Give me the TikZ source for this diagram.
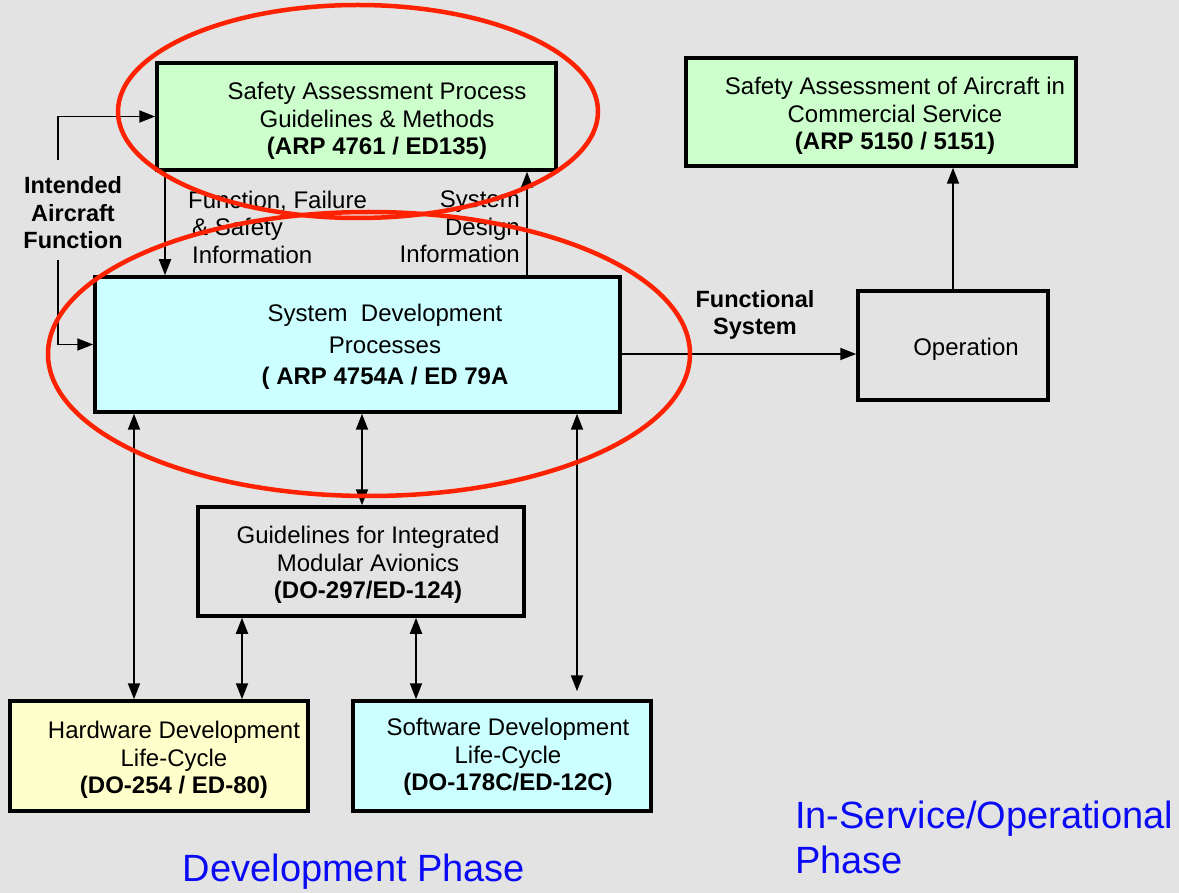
\documentclass[tikz,border=0pt]{standalone}
\usepackage{fontspec}
\setmainfont{Liberation Sans}
\usetikzlibrary{arrows.meta}
\definecolor{bggray}{RGB}{227,227,227}
\definecolor{boxgreen}{RGB}{204,255,204}
\definecolor{boxcyan}{RGB}{204,255,255}
\definecolor{boxyellow}{RGB}{255,255,204}
\definecolor{ringred}{RGB}{255,34,0}
\definecolor{phaseblue}{RGB}{10,10,245}
\begin{document}
\begin{tikzpicture}[x=1pt,y=-1pt,
  box/.style={draw=black,line width=3.5pt,minimum width=#1,inner sep=0pt},
  body/.style={inner sep=0pt,align=center,font=\fontsize{24}{27.5}\selectfont},
  lbl/.style={inner sep=0pt,font=\fontsize{24}{27.5}\selectfont},
  blbl/.style={inner sep=0pt,align=center,font=\fontsize{23.5}{27.5}\selectfont\bfseries},
  phase/.style={inner sep=0pt,text=phaseblue,font=\fontsize{38}{45}\selectfont},
  conn/.style={line width=1.8pt,-{Triangle[length=16pt,width=12pt]}},
  dconn/.style={line width=1.8pt,{Triangle[length=16pt,width=12pt]}-{Triangle[length=16pt,width=12pt]}},
  ring/.style={draw=ringred,line width=4.5pt}]
% canvas
\fill[bggray] (0,0) rectangle (1179,893);
\useasboundingbox (0,0) rectangle (1179,893);

% boxes
\node[box=399pt,minimum height=107pt,fill=boxgreen] (sap) at (356.5,116.5) {};
\node[box=390pt,minimum height=108pt,fill=boxgreen] (saa) at (881,112) {};
\node[box=525pt,minimum height=135pt,fill=boxcyan] (sys) at (357.5,344.5) {};
\node[box=190pt,minimum height=109pt] (op) at (953,345.5) {};
\node[box=326pt,minimum height=109pt] (ima) at (361,561.5) {};
\node[box=298pt,minimum height=110pt,fill=boxyellow] (hw) at (159,756) {};
\node[box=298pt,minimum height=110pt,fill=boxcyan] (sw) at (502,756) {};

% box texts
\node[body] (sapT) at (377,121) {Safety Assessment Process\\Guidelines \& Methods\\\textbf{(ARP 4761 / ED135)}};
\node[body] (saaT) at (895,116) {Safety Assessment of Aircraft in\\Commercial Service\\\textbf{(ARP 5150 / 5151)}};
\node[body,font=\fontsize{24}{31.5}\selectfont] (sysT) at (385,347) {System\ \ Development\\Processes\\\textbf{( ARP 4754A / ED 79A}};
\node[body] (opT) at (966,349) {Operation};
\node[body] (imaT) at (368,565) {Guidelines for Integrated\\Modular Avionics\\\textbf{(DO-297/ED-124)}};
\node[body] (hwT) at (174,760) {Hardware Development\\Life-Cycle\\\textbf{(DO-254 / ED-80)}};
\node[body] (swT) at (508,757) {Software Development\\Life-Cycle\\\textbf{(DO-178C/ED-12C)}};

% free labels
\node[blbl] (iaf) at (73,213) {Intended\\Aircraft\\Function};
\node[lbl,align=left,anchor=west] (ffs) at (188,227) {Function, Failure\\\,\& Safety\\\,Information};
\node[lbl,align=right,anchor=east] (sdi) at (520,227) {System\\Design\\Information};
\node[blbl] (fs) at (755,315) {Functional\\System};
\node[phase] (dev) at (354,872) {Development Phase};
\node[phase,align=left,anchor=north west] (isp) at (795,801) {In-Service/Operational\\Phase};

% helper coordinates
\coordinate (iafUp) at (58,160);
\coordinate (iafDn) at (58,260);
\coordinate (ffx) at (165,0);
\coordinate (sdx) at (527,0);
\coordinate (fsy) at (0,354);
\coordinate (hwx) at (134,0);
\coordinate (imx) at (362,0);
\coordinate (swx) at (577,0);
\coordinate (ihx) at (242,0);
\coordinate (isx) at (416,0);

% connectors
\draw[conn] (iafUp) |- (sap.west);
\draw[conn] (iafDn) |- (sys.west);
\draw[conn] (sap.south -| ffx) -- (sys.north -| ffx);
\draw[conn] (sys.north -| sdx) -- (sap.south -| sdx);
\draw[conn] (sys.east |- fsy) -- (op.west |- fsy);
\draw[conn] (op.north) -- (saa.south -| op.north);
\draw[dconn] (sys.south -| hwx) -- (hw.north -| hwx);
\draw[dconn] (sys.south -| imx) -- (ima.north -| imx);
\draw[dconn,shorten >=8pt] (sys.south -| swx) -- (sw.north -| swx);
\draw[dconn] (ima.south -| ihx) -- (hw.north -| ihx);
\draw[dconn] (ima.south -| isx) -- (sw.north -| isx);

% highlight rings
\draw[ring] (358,111.5) ellipse [x radius=240, y radius=106.5];
\draw[ring] (369,354) ellipse [x radius=321, y radius=142];
\end{tikzpicture}
\end{document}
